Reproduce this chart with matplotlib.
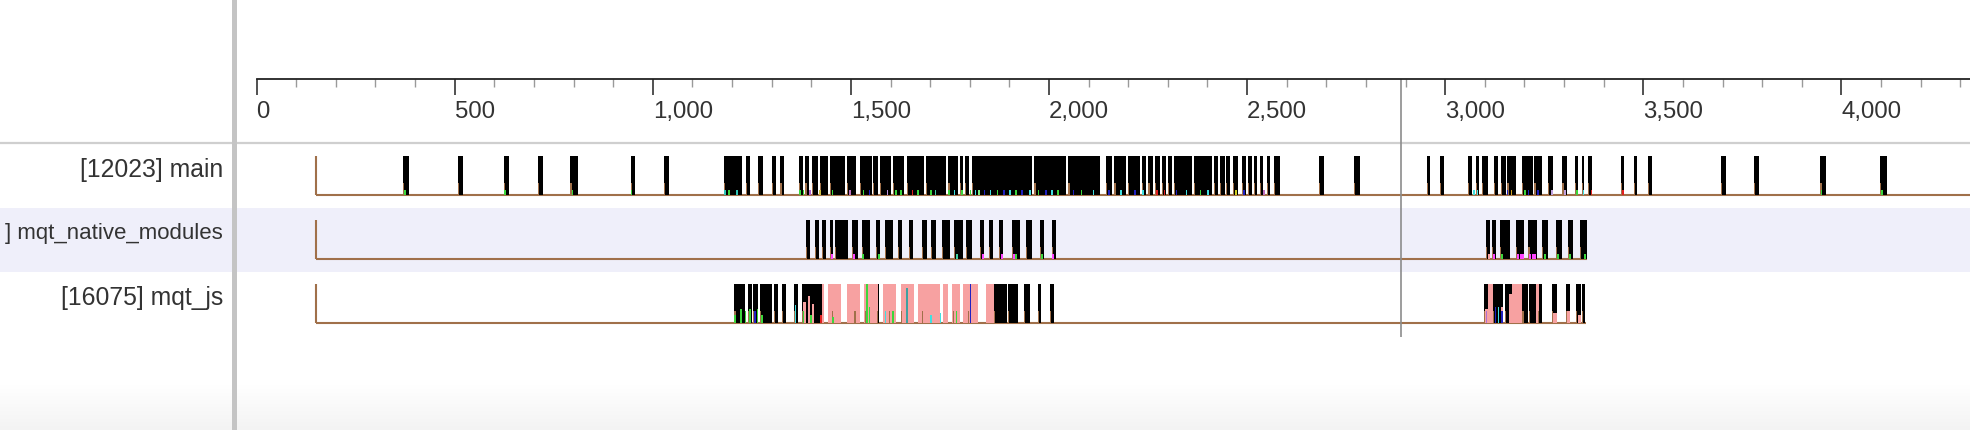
import numpy as np
import matplotlib
matplotlib.use("Agg")
import matplotlib.pyplot as plt
from matplotlib.colors import LinearSegmentedColormap
from matplotlib.ticker import StrMethodFormatter

plt.rcParams['font.family'] = ['Liberation Sans', 'DejaVu Sans']

# ---- data (time in ms) -------------------------------------------------
row_labels = ["[12023] main", "] mqt_native_modules", "[16075] mqt_js"]  # 2nd label is cut off on the left
thread_start = [151, 151, 151]
thread_end = [4400, 3359, 3355]
cursor_time = 2888

main_busy = [(369, 385), (508, 521), (625, 638), (710, 723), (792, 810), (944, 956), (1029, 1042),
             (1180, 1224), (1235, 1245), (1266, 1279), (1300, 1310), (1322, 1331),
             (1369, 1380), (1385, 1395), (1402, 1418), (1422, 1443), (1447, 1485), (1489, 1513),
             (1523, 1553), (1556, 1568), (1573, 1601), (1605, 1635), (1641, 1684), (1689, 1740),
             (1746, 1771), (1775, 1784), (1788, 1799), (1805, 1956), (1963, 2042), (2049, 2129),
             (2144, 2158), (2165, 2194), (2200, 2230), (2235, 2246), (2251, 2262), (2268, 2279),
             (2284, 2295), (2301, 2310), (2315, 2362), (2366, 2412), (2417, 2427), (2432, 2443),
             (2447, 2457), (2465, 2476), (2486, 2497), (2503, 2512), (2517, 2526), (2532, 2540),
             (2549, 2558), (2568, 2583), (2682, 2693), (2770, 2784),
             (2953, 2962), (2987, 2997), (3058, 3067), (3078, 3086), (3092, 3109), (3123, 3134),
             (3141, 3153), (3157, 3179), (3194, 3221), (3225, 3244), (3260, 3273), (3296, 3308),
             (3327, 3334), (3345, 3350), (3361, 3370), (3443, 3451), (3476, 3485), (3511, 3521),
             (3695, 3708), (3780, 3793), (3947, 3960), (4098, 4116)]

native_busy = [(1387, 1397), (1410, 1420), (1426, 1436), (1447, 1454), (1460, 1492), (1502, 1519),
               (1527, 1548), (1563, 1573), (1586, 1607), (1618, 1628), (1647, 1657), (1679, 1691),
               (1702, 1715), (1729, 1750), (1761, 1782), (1790, 1805), (1826, 1837), (1849, 1858),
               (1873, 1885), (1906, 1927), (1942, 1956), (1977, 1987), (2007, 2017),
               (3103, 3113), (3117, 3128), (3138, 3164), (3179, 3199), (3210, 3231), (3244, 3259),
               (3279, 3294), (3309, 3323), (3340, 3359)]

js_busy = [(1206, 1233), (1240, 1250), (1254, 1266), (1271, 1300), (1306, 1317), (1325, 1336),
           (1356, 1367), (1376, 1426), (1452, 1457), (1509, 1514), (1536, 1549), (1566, 1570),
           (1596, 1604), (1626, 1630), (1640, 1651), (1679, 1721), (1758, 1767), (1796, 1805),
           (1861, 1893), (1897, 1922), (1937, 1952), (1971, 1981), (2003, 2013),
           (3098, 3109), (3120, 3147), (3150, 3168), (3195, 3208), (3212, 3229), (3233, 3244),
           (3269, 3283), (3305, 3315), (3330, 3342), (3345, 3352)]

js_gc = [(1426, 1432), (1443, 1474), (1489, 1523), (1534, 1569), (1582, 1614), (1626, 1660),
         (1670, 1725), (1732, 1746), (1754, 1775), (1784, 1820), (1840, 1861),
         (3109, 3120), (3168, 3195), (3229, 3236)]

# partial-height stacks (start, end, fraction of row height)
js_gc_low = [(1380, 1386, 0.55), (1392, 1397, 0.7), (1402, 1407, 0.5), (1688, 1694, 0.7),
             (1698, 1704, 0.6), (1706, 1712, 0.45), (3100, 3108, 0.35), (3140, 3146, 0.4),
             (3160, 3170, 0.75), (3176, 3186, 0.9), (3272, 3282, 0.25), (3307, 3314, 0.3),
             (3336, 3342, 0.2)]

main_marks = [(373, '#3cd63c'), (625, '#3cd63c'), (795, '#3cd63c'), (944, '#3cd63c'), (1180, '#2ec4b6'),
              (1190, '#3cd63c'), (1210, '#2ec4b6'), (1369, '#3cd63c'), (1378, '#3cd63c'),
              (1395, '#b060d0'), (1420, '#d0c040'), (1452, '#3cd63c'), (1495, '#c070c0'),
              (1530, '#3cd63c'), (1545, '#2020c0'), (1590, '#c090e0'), (1612, '#3cd63c'),
              (1625, '#3cd63c'), (1653, '#e02020'), (1668, '#3cd63c'), (1700, '#3cd63c'),
              (1712, '#40d0a0'), (1745, '#3cd63c'), (1760, '#40e0e0'), (1778, '#3cd63c'),
              (1800, '#3cd63c'), (1812, '#40e0e0'), (1822, '#80f080'), (1835, '#2020c0'),
              (1850, '#40e0e0'), (1868, '#3cd63c'), (1885, '#2020c0'), (1900, '#40e0e0'),
              (1915, '#3cd63c'), (1930, '#2020c0'), (1950, '#40e0e0'), (1972, '#3cd63c'),
              (1990, '#2020c0'), (2005, '#40e0e0'), (2020, '#3cd63c'), (2060, '#2020c0'),
              (2080, '#3cd63c'), (2110, '#40e0e0'), (2150, '#2020c0'), (2180, '#40e0e0'),
              (2215, '#2020c0'), (2235, '#40e0e0'), (2270, '#e02020'), (2290, '#e02020'),
              (2320, '#2020c0'), (2345, '#40e0e0'), (2380, '#3cd63c'), (2400, '#40e0e0'),
              (2470, '#d0d020'), (2490, '#2020c0'), (2540, '#c070c0'), (3070, '#40e0e0'),
              (3080, '#40e0e0'), (3155, '#2020c0'), (3165, '#d0a020'), (3200, '#3cd63c'),
              (3208, '#2020c0'), (3232, '#2020c0'), (3267, '#c0a0e0'), (3300, '#c0a0e0'),
              (3330, '#3cd63c'), (3347, '#40e0e0'), (3367, '#e02020'), (3447, '#e02020'),
              (3948, '#3cd63c'), (4100, '#3cd63c')]

native_marks = [(1449, '#ff44ff'), (1505, '#ff44ff'), (1528, '#3cd63c'), (1568, '#3cd63c'),
                (1765, '#40d0a0'), (1830, '#ff44ff'), (1880, '#ff44ff'), (1910, '#ff44ff'),
                (1915, '#3cd63c'), (1980, '#3cd63c'), (2008, '#ff44ff'), (3108, '#f7a0a0'),
                (3120, '#ff44ff'), (3140, '#3cd63c'), (3182, '#ff44ff'), (3188, '#ff44ff'),
                (3194, '#ff44ff'), (3212, '#ff44ff'), (3218, '#ff44ff'), (3224, '#ff44ff'),
                (3250, '#3cd63c'), (3282, '#3cd63c'), (3312, '#3cd63c'), (3350, '#3cd63c')]

js_marks = [(1206, '#3cd63c', 0.2), (1220, '#3cd63c', 0.35), (1232, '#3cd63c', 0.3),
            (1244, '#3cd63c', 0.35), (1256, '#2020c0', 0.3), (1262, '#3cd63c', 0.35),
            (1274, '#3cd63c', 0.2), (1358, '#40e0e0', 0.45), (1378, '#3cd63c', 0.3),
            (1398, '#3cd63c', 0.2), (1422, '#e02020', 0.2), (1453, '#3cd63c', 0.15),
            (1538, '#3cd63c', 1.0), (1545, '#3cd63c', 0.4), (1585, '#40e0e0', 0.3),
            (1604, '#3cd63c', 0.3), (1640, '#40a0a0', 0.9), (1700, '#40e0e0', 0.2),
            (1724, '#40e0e0', 0.25), (1765, '#3cd63c', 0.3), (1800, '#2020c0', 1.0),
            (3102, '#b070d0', 0.3), (3125, '#2020c0', 0.4), (3133, '#40e0e0', 0.4),
            (3142, '#2020c0', 0.3)]

# ---- layout (pixels) ----------------------------------------------------
W, H = 1970, 430
PANEL = 236                 # width of the thread name column
PX_PER_MS = 0.3962
ZERO_X = 256.6
VMIN = (PANEL - ZERO_X) / PX_PER_MS
VMAX = (W - ZERO_X) / PX_PER_MS
row_top = [156, 220, 284]
row_base = [195, 259, 323]
label_size = [17.8, 16.0, 17.8]   # the long name is squeezed to stay inside the column
BROWN = '#a0704a'
PINK = '#f7a1a1'

fig = plt.figure(figsize=(W / 100, H / 100), dpi=100)

bg = fig.add_axes([0, 0, 1, 1])
shade = LinearSegmentedColormap.from_list('shade', ['#ffffff', '#f3f3f3'])
bg.imshow(np.linspace(0, 1, 64)[:, None], cmap=shade, aspect='auto',
          extent=[0, W, 430, 385], zorder=0)
bg.axhspan(208, 272, color='#efeffa', lw=0, zorder=1)
bg.axhline(142.5, color='#cfcfcf', lw=1.6, zorder=2)
bg.axvline(233.5, color='#c4c4c4', lw=3.6, zorder=3)
bg.set_xlim(0, W)
bg.set_ylim(H, 0)
bg.axis('off')

for lbl, yt, fs in zip(row_labels, row_top, label_size):
    bg.text(223, yt + 14, lbl, ha='right', va='center', fontsize=fs, color='#333333')

ax = fig.add_axes([PANEL / W, 0, 1 - PANEL / W, 1])
ax.patch.set_alpha(0)
ax.set_xlim(VMIN, VMAX)
ax.set_ylim(H, 0)
ax.axis('off')

busy = [main_busy, native_busy, js_busy]
for i in range(3):
    top, base = row_top[i], row_base[i]
    h = base - top
    ax.hlines(base, thread_start[i], thread_end[i], color=BROWN, lw=1.5, zorder=2)
    ax.vlines(thread_start[i], top, base, color=BROWN, lw=1.5, zorder=2)
    ax.broken_barh([(s, e - s) for s, e in busy[i]], (top, h), facecolors='black', zorder=3)
    ax.broken_barh([(s, 3) for s, e in busy[i]], (base - 0.3 * h, 0.3 * h),
                   facecolors=BROWN, zorder=4)

h3 = row_base[2] - row_top[2]
ax.broken_barh([(s, e - s) for s, e in js_gc], (row_top[2], h3), facecolors=PINK, zorder=3)
for s, e, f in js_gc_low:
    ax.broken_barh([(s, e - s)], (row_base[2] - f * h3, f * h3), facecolors=PINK, zorder=4)

for t, c in main_marks:
    ax.broken_barh([(t, 4)], (row_base[0] - 5, 5), facecolors=c, zorder=5)
for t, c in native_marks:
    ax.broken_barh([(t, 5)], (row_base[1] - 5, 5), facecolors=c, zorder=5)
for t, c, f in js_marks:
    ax.broken_barh([(t, 4)], (row_base[2] - f * h3, f * h3), facecolors=c, zorder=5)

ax.vlines(cursor_time, 79, 337, color='#8c8c8c', lw=1.2, zorder=6)

# ruler
ruler = fig.add_axes([PANEL / W, 1 - 79 / H, 1 - PANEL / W, 79 / H])
ruler.patch.set_alpha(0)
ruler.set_xlim(VMIN, VMAX)
for side in ['left', 'right', 'top']:
    ruler.spines[side].set_visible(False)
ruler.spines['bottom'].set_bounds(0, VMAX)
ruler.spines['bottom'].set_color('#222222')
ruler.spines['bottom'].set_linewidth(1.3)
ruler.set_yticks([])
ruler.set_xticks(np.arange(0, 4001, 500))
ruler.set_xticks(np.arange(0, 4301, 100), minor=True)
ruler.xaxis.set_major_formatter(StrMethodFormatter('{x:,.0f}'))
ruler.tick_params(axis='x', which='major', direction='out', length=11.5, width=1.1,
                  color='#222222', labelsize=17.3, labelcolor='#333333', pad=4.5)
ruler.tick_params(axis='x', which='minor', direction='out', length=5.8, width=1.0,
                  color='#9a9a9a')
plt.setp(ruler.get_xticklabels(), ha='left')

fig.savefig('out.png', dpi=100)
